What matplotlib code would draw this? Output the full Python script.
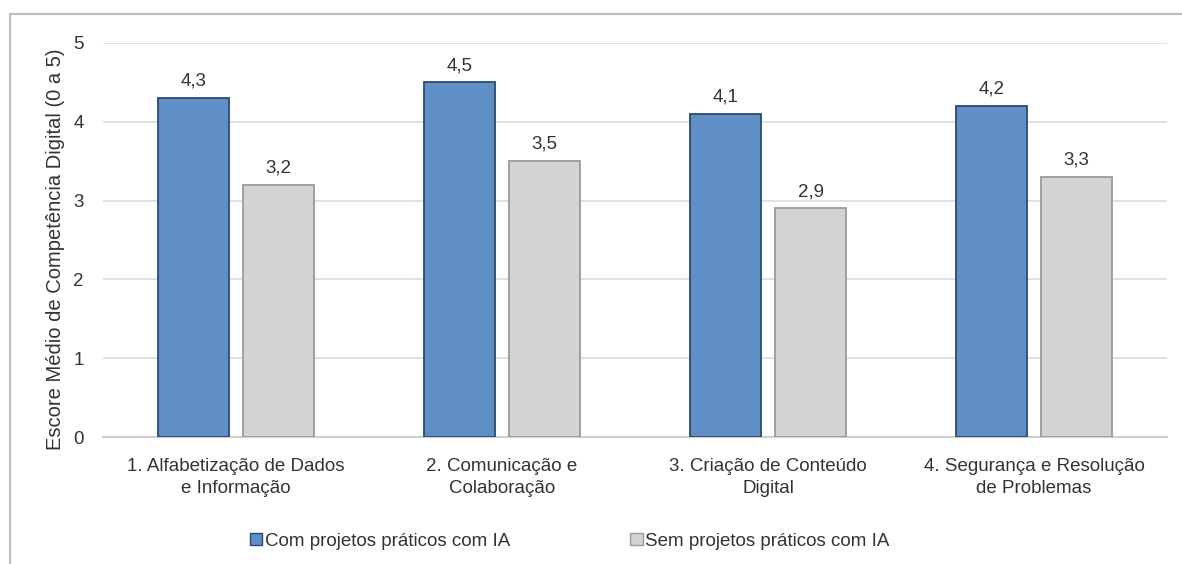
import matplotlib
matplotlib.use("Agg")
import matplotlib.pyplot as plt
import numpy as np
from matplotlib.lines import Line2D
from matplotlib.patches import Patch

plt.rcParams['font.family'] = ['Liberation Sans', 'DejaVu Sans']

categories = ["1. Alfabetização de Dados\ne Informação",
              "2. Comunicação e\nColaboração",
              "3. Criação de Conteúdo\nDigital",
              "4. Segurança e Resolução\nde Problemas"]
com_ia = [4.3, 4.5, 4.1, 4.2]
sem_ia = [3.2, 3.5, 2.9, 3.3]
series_names = ["Com projetos práticos com IA", "Sem projetos práticos com IA"]
y_label = "Escore Médio de Competência Digital (0 a 5)"

W, H = 1182, 564
fig = plt.figure(figsize=(W / 100, H / 100), dpi=100)
ax = fig.add_axes([103 / W, 1 - 437 / H, (1167 - 103) / W, (437 - 43) / H])

x = np.arange(len(categories))
bw = 0.265
off = 0.16
text_c = "#333333"
fs = 13.5
b1 = ax.bar(x - off, com_ia, bw, color="#5f8fc5", edgecolor="#2c4a70", linewidth=1.3, zorder=3)
b2 = ax.bar(x + off, sem_ia, bw, color="#d3d3d3", edgecolor="#9a9a9a", linewidth=1.3, zorder=3)

for bars, vals in ((b1, com_ia), (b2, sem_ia)):
    for r, v in zip(bars, vals):
        ax.annotate(f"{v:.1f}".replace(".", ","), (r.get_x() + r.get_width() / 2, v),
                    xytext=(0, 6), textcoords="offset points", ha="center", va="bottom",
                    fontsize=fs, color=text_c)

ax.set_xlim(-0.5, len(categories) - 0.5)
ax.set_ylim(0, 5)
ax.set_yticks(range(0, 6))
ax.set_xticks(x)
ax.set_xticklabels(categories, fontsize=fs, color=text_c, linespacing=1.4)
ax.tick_params(axis='y', labelsize=fs, labelcolor=text_c, length=0, pad=14)
ax.tick_params(axis='x', length=0, pad=15)
ax.grid(axis='y', color="#dcdcdc", linewidth=1.2, zorder=0)
for s in ("top", "right", "left"):
    ax.spines[s].set_visible(False)
ax.spines["bottom"].set_color("#cfcfcf")
ax.spines["bottom"].set_linewidth(1.5)
ax.set_ylabel(y_label, fontsize=14.5, color=text_c)
ax.yaxis.set_label_coords(-0.036, 0.477)

handles = [Patch(facecolor="#5f8fc5", edgecolor="#2c4a70"),
           Patch(facecolor="#d3d3d3", edgecolor="#9a9a9a")]
fig.legend(handles, series_names, loc="center", bbox_to_anchor=(570 / W, 1 - 541 / H),
           ncol=2, frameon=False, fontsize=fs, handlelength=0.65, handleheight=0.65,
           handletextpad=0.15, columnspacing=6.4, labelcolor=text_c)

# figure border (left and top)
fig.add_artist(Line2D([10 / W, 10 / W], [0, 1 - 14 / H], color="#bdbdbd", linewidth=1.5,
                      transform=fig.transFigure))
fig.add_artist(Line2D([10 / W, 1], [1 - 14 / H, 1 - 14 / H], color="#bdbdbd", linewidth=1.5,
                      transform=fig.transFigure))

fig.savefig("out.png", dpi=100, facecolor="white")
